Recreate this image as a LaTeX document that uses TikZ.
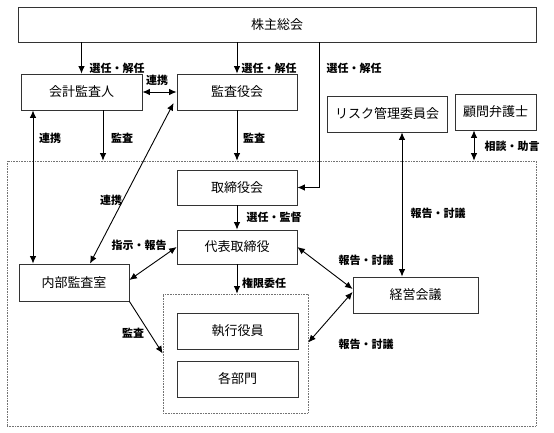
\documentclass[tikz,border=0pt]{standalone}
\usepackage{fontspec}
\setmainfont{Noto Sans CJK JP}
\usepackage{tikz}
\usetikzlibrary{arrows.meta}
\usetikzlibrary{positioning}
\usetikzlibrary{calc}

\tikzset{
  box/.style={draw=black!80,line width=0.8pt,inner sep=0pt,font=\fontsize{13}{15}\selectfont},
  dotbox/.style={draw=black!55,densely dotted,line width=0.6pt,inner sep=0pt},
  lbl/.style={inner sep=0pt,font=\fontsize{11}{12}\selectfont\bfseries},
  arr/.style={line width=0.9pt,-{Latex[length=7.5pt,width=6.5pt]}},
  darr/.style={line width=0.9pt,{Latex[length=7.5pt,width=6.5pt]}-{Latex[length=7.5pt,width=6.5pt]}}
}

\begin{document}
\begin{tikzpicture}[x=1pt,y=-1pt]
      \useasboundingbox (0,0) rectangle (554,433);
      % frames
      \node[dotbox,minimum width=529pt,minimum height=265pt] (outer) at (271.5,293.5) {};
      \node[dotbox,minimum width=145pt,minimum height=119pt] (inner) at (235.5,353.5) {};
      % boxes
      \begin{scope}[every node/.style={box}]
        \node[minimum width=518pt,minimum height=35pt] (kabu) at (277,24.5) {株主総会};
        \node[minimum width=121pt,minimum height=36pt] (kaikei) at (81.5,92) {会計監査人};
        \node[minimum width=120pt,minimum height=36pt] (kansa) at (237,92) {監査役会};
        \node[minimum width=120pt,minimum height=36pt] (risk) at (387,114) {リスク管理委員会};
        \node[minimum width=81pt,minimum height=36pt] (komon) at (495.5,112) {顧問弁護士};
        \node[minimum width=120pt,minimum height=35pt] (tori) at (237,187.5) {取締役会};
        \node[minimum width=120pt,minimum height=34pt] (daihyo) at (237,247) {代表取締役};
        \node[minimum width=110pt,minimum height=37pt] (naibu) at (74,282.5) {内部監査室};
        \node[minimum width=125pt,minimum height=36pt] (keiei) at (415.5,295) {経営会議};
        \node[minimum width=121pt,minimum height=36pt] (shikko) at (237.5,331) {執行役員};
        \node[minimum width=121pt,minimum height=36pt] (kakubu) at (237.5,379) {各部門};
      \end{scope}
      % helper points
      \coordinate (sel) at (319,0);
      \coordinate (kA) at ([xshift=21.5pt]kaikei.south);
      \coordinate (kB) at ([xshift=-48.5pt]kaikei.south);
      \coordinate (nA) at ([xshift=16pt]naibu.north);
      \coordinate (sA) at ([yshift=-11pt]kansa.west);
      \coordinate (rA) at ([xshift=15pt]risk.south);
      \coordinate (cA) at ([xshift=-21.5pt]komon.south);
      % connectors
      \draw[arr] (kabu.south -| kaikei.north) -- (kaikei.north);
      \draw[arr] (kabu.south -| kansa.north) -- (kansa.north);
      \draw[arr] (kabu.south -| sel) |- (tori.east);
      \draw[darr] (kaikei) -- (kansa);
      \draw[arr] (kA) -- (kA |- outer.north);
      \draw[arr] (kansa.south) -- (kansa.south |- outer.north);
      \draw[darr] (kB) -- (kB |- naibu.north);
      \draw[darr] (nA) -- ([xshift=-3pt]sA);
      \draw[darr] (cA) -- (cA |- outer.north);
      \draw[darr] (rA) -- (rA |- keiei.north);
      \draw[arr] (tori) -- (daihyo);
      \draw[darr] (daihyo.west) -- ([yshift=2.5pt]naibu.east);
      \draw[darr] (daihyo.east) -- ([yshift=6pt]keiei.west);
      \draw[arr] (daihyo.south) -- (daihyo.south |- inner.north);
      \draw[arr] (naibu.south east) -- (inner.west);
      \draw[darr] ([yshift=11pt]inner.east) -- ([yshift=3pt]keiei.west);
      % labels
      \begin{scope}[every node/.style={lbl}]
        \node (t1) at (117,68) {選任・解任};
        \node (t2) at (269,68) {選任・解任};
        \node (t3) at (354,68) {選任・解任};
        \node (t4) at (157,80) {連携};
        \node (t5) at (50,138) {連携};
        \node (t6) at (122,138) {監査};
        \node (t7) at (254,138) {監査};
        \node (t8) at (512,146) {相談・助言};
        \node (t9) at (111,200) {連携};
        \node (t10) at (438,213) {報告・討議};
        \node (t11) at (274,217) {選任・監督};
        \node (t12) at (139,245) {指示・報告};
        \node (t13) at (366,260) {報告・討議};
        \node (t14) at (264,283) {権限委任};
        \node (t15) at (133,333) {監査};
        \node (t16) at (366,344) {報告・討議};
      \end{scope}
\end{tikzpicture}
\end{document}
